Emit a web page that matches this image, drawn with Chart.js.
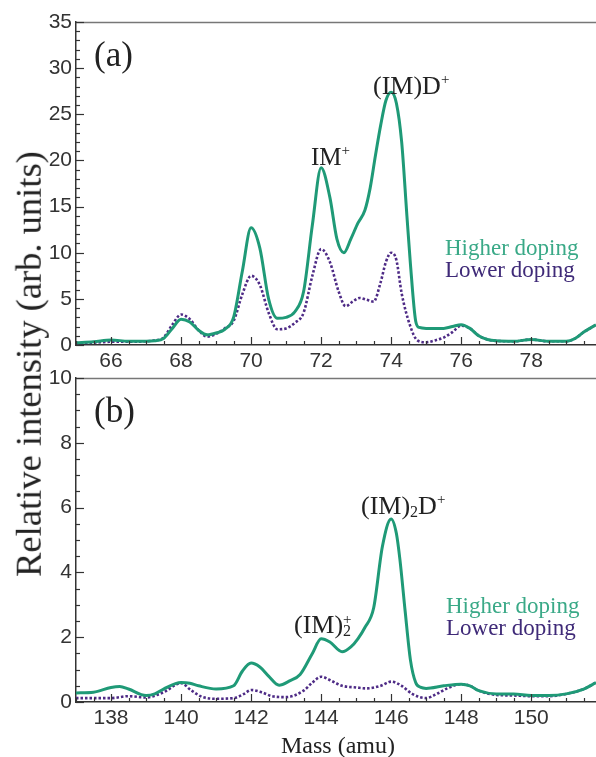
<!DOCTYPE html>
<html><head><meta charset="utf-8">
<script src="https://cdn.jsdelivr.net/npm/chart.js@4.4.1/dist/chart.umd.min.js"></script>
<style>
html,body{margin:0;padding:0;background:#fff;overflow:hidden;width:596px;height:757px;}
#wrap{position:relative;width:596px;height:757px;}
canvas{position:absolute;left:0;}
.t{position:absolute;font-family:"Liberation Serif","Times New Roman",serif;white-space:nowrap;line-height:1;color:#222;}
.sp{position:relative;}
</style></head><body>
<div id="wrap">
<canvas id="ca" width="596" height="370" style="top:0px"></canvas>
<canvas id="cb" width="596" height="397" style="top:360px"></canvas>
</div>
<script>
// ---------- data: panel (a) ----------
const massHiA = [65,65.5,66,66.5,67,67.25,67.5,67.75,68,68.25,68.5,68.75,69,69.25,69.5,69.75,70,70.25,70.5,70.75,71,71.25,71.5,71.75,72,72.25,72.45,72.65,72.85,73.05,73.25,73.4,73.55,73.7,73.85,74,74.15,74.3,74.45,74.55,74.7,74.8,75,75.25,75.5,75.75,76,76.25,76.5,76.75,77,77.5,78,78.5,79,79.25,79.5,79.85];
const higherA = [0.25,0.35,0.55,0.4,0.4,0.45,0.7,1.8,2.8,2.5,1.6,1.1,1.3,1.7,3.0,8.0,12.7,10.5,5.0,2.9,3.0,3.6,5.8,13.0,19.2,16.0,11.5,10.0,11.5,13.2,14.6,17.0,20.5,23.8,26.5,27.4,26.2,22.0,14.0,8.8,2.6,1.9,1.8,1.8,1.8,2.0,2.2,1.8,1.0,0.6,0.45,0.4,0.6,0.4,0.4,0.7,1.4,2.2];
const massLoA = [65,65.5,66,66.5,67,67.25,67.5,67.75,68,68.25,68.5,68.75,69,69.25,69.5,69.75,70,70.25,70.5,70.75,71,71.25,71.5,71.75,72,72.25,72.5,72.7,72.9,73.1,73.3,73.5,73.7,73.85,74,74.15,74.3,74.55,74.75,75,75.25,75.5,75.75,76,76.25,76.5,76.75,77,77.5,78,78.5,79,79.25,79.5,79.85];
const lowerA  = [0.2,0.25,0.35,0.35,0.4,0.5,0.8,2.2,3.3,2.8,1.6,0.9,1.2,1.8,2.6,5.5,7.5,6.5,3.5,1.7,1.8,2.4,3.5,7.5,10.4,9.0,5.8,4.2,4.7,5.1,4.9,4.7,6.8,9.0,10.0,9.2,5.6,2.0,0.5,0.3,0.5,0.8,1.4,2.1,1.8,1.0,0.6,0.45,0.4,0.6,0.4,0.4,0.7,1.4,2.2];
const xTicksA = [66,68,70,72,74,76,78];
const yTicksA = [0,5,10,15,20,25,30,35];

// ---------- data: panel (b) ----------
const massHiB = [137,137.5,138,138.25,138.5,139,139.25,139.5,140,140.25,140.5,141,141.5,141.75,142,142.25,142.5,142.8,143.1,143.4,143.75,144,144.25,144.6,144.85,145.05,145.25,145.5,145.75,146,146.15,146.25,146.4,146.55,146.7,146.85,147,147.5,148,148.25,148.5,149,149.5,150,150.5,151,151.5,151.85];
const higherB = [0.28,0.3,0.45,0.48,0.4,0.2,0.25,0.4,0.6,0.58,0.5,0.4,0.5,0.95,1.2,1.08,0.8,0.52,0.65,0.85,1.5,1.95,1.85,1.55,1.7,1.95,2.3,2.9,4.8,5.65,5.2,4.4,2.8,1.3,0.6,0.45,0.42,0.5,0.55,0.5,0.35,0.25,0.25,0.2,0.2,0.25,0.4,0.6];
const massLoB = [137,137.5,138,138.5,139,139.5,140,140.3,140.6,141,141.5,141.8,142,142.3,142.6,143,143.5,143.75,144,144.3,144.6,145,145.3,145.7,146,146.3,146.6,147,147.3,147.6,148,148.25,148.5,149,149.5,150,150.5,151,151.5,151.85];
const lowerB  = [0.12,0.12,0.12,0.18,0.14,0.3,0.58,0.35,0.16,0.1,0.12,0.25,0.37,0.3,0.18,0.15,0.35,0.6,0.78,0.65,0.5,0.45,0.42,0.5,0.63,0.5,0.25,0.12,0.25,0.42,0.55,0.5,0.35,0.22,0.2,0.18,0.18,0.25,0.4,0.6];
const xTicksB = [138,140,142,144,146,148,150];
const yTicksB = [0,2,4,6,8,10];

const seriesNames = ['Higher doping','Lower doping'];

// ---------- styles ----------
const GREEN = '#1f9a77';
const PURPLE = '#4e2b86';
const GREEN_TXT = '#3aa987';
const PURPLE_TXT = '#3f2a78';
const AXIS = '#333';

const frameTicks = {
  id: 'frameTicks',
  afterDraw(chart, args, o) {
    const {ctx, chartArea: a, scales: {x, y}} = chart;
    ctx.save();
    ctx.strokeStyle = '#777'; ctx.lineWidth = 1.5;
    ctx.beginPath(); ctx.moveTo(a.left, a.top + 0.5); ctx.lineTo(a.right, a.top + 0.5); ctx.stroke();
    ctx.strokeStyle = AXIS; ctx.lineWidth = 1.2;
    const near = (v, s) => Math.abs(v / s - Math.round(v / s)) < 1e-6;
    const nx = Math.round((x.max - x.min) / o.xMinor);
    const x0 = Math.ceil(x.min / o.xMinor) * o.xMinor;
    for (let k = 0; k <= nx; k++) {
      const v = x0 + k * o.xMinor; if (v > x.max) break;
      const px = Math.round(x.getPixelForValue(v)) + 0.5;
      const len = near(v, o.xMajor) ? 8 : 4;
      ctx.beginPath(); ctx.moveTo(px, a.bottom); ctx.lineTo(px, a.bottom - len); ctx.stroke();
    }
    const ny = Math.round((y.max - y.min) / o.yMinor);
    for (let k = 0; k <= ny; k++) {
      const v = y.min + k * o.yMinor;
      const py = Math.round(y.getPixelForValue(v)) + 0.5;
      const len = near(v, o.yMajor) ? 8 : 4;
      ctx.beginPath(); ctx.moveTo(a.left, py); ctx.lineTo(a.left + len, py); ctx.stroke();
    }
    ctx.restore();
  }
};

function makeChart(id, mHi, hi, mLo, lo, xr, xTicks, yTicks, tick, padTop, xH) {
  return new Chart(document.getElementById(id), {
    type: 'line',
    data: {
      datasets: [
        {label: seriesNames[0], data: mHi.map((m, i) => ({x: m, y: hi[i]})), borderColor: GREEN, borderWidth: 3,
         pointRadius: 0, cubicInterpolationMode: 'monotone', fill: false},
        {label: seriesNames[1], data: mLo.map((m, i) => ({x: m, y: lo[i]})), borderColor: PURPLE, borderWidth: 2.6,
         borderDash: [2.5, 2], pointRadius: 0, cubicInterpolationMode: 'monotone', fill: false}
      ]
    },
    options: {
      responsive: false, animation: false, devicePixelRatio: 1,
      layout: {padding: {top: padTop, left: 0, right: 0, bottom: 0}},
      plugins: {legend: {display: false}, tooltip: {enabled: false}, frameTicks: tick},
      scales: {
        x: {
          type: 'linear', min: xr[0], max: xr[1],
          afterBuildTicks: s => { s.ticks = xTicks.map(v => ({value: v})); },
          afterFit: s => { s.height = xH; },
          grid: {drawOnChartArea: false, drawTicks: false},
          border: {display: true, color: AXIS, width: 1.5},
          ticks: {font: {family: 'Liberation Sans', size: 21}, color: '#333', padding: 4, maxRotation: 0, autoSkip: false}
        },
        y: {
          min: yTicks[0], max: yTicks[yTicks.length - 1],
          afterBuildTicks: s => { s.ticks = yTicks.map(v => ({value: v})); },
          afterFit: s => { s.width = 76; },
          grid: {drawOnChartArea: false, drawTicks: false},
          border: {display: true, color: AXIS, width: 1.5},
          ticks: {font: {family: 'Liberation Sans', size: 21}, color: '#333', padding: 4}
        }
      }
    },
    plugins: [frameTicks]
  });
}

makeChart('ca', massHiA, higherA, massLoA, lowerA, [65, 79.85], xTicksA, yTicksA,
  {xMinor: 0.5, xMajor: 2, yMinor: 1, yMajor: 5}, 22, 25);
makeChart('cb', massHiB, higherB, massLoB, lowerB, [137, 151.85], xTicksB, yTicksB,
  {xMinor: 0.5, xMajor: 2, yMinor: 0.5, yMajor: 2}, 18, 55);

// ---------- text ----------
const wrap = document.getElementById('wrap');
function txt(html, left, baseline, size, color, extra) {
  const d = document.createElement('div');
  d.className = 't';
  d.innerHTML = html;
  d.style.left = left + 'px';
  d.style.top = (baseline - 0.8375 * size) + 'px';
  d.style.fontSize = size + 'px';
  if (color) d.style.color = color;
  if (extra) Object.assign(d.style, extra);
  wrap.appendChild(d);
  return d;
}
const sup = (s, dy, fs) => `<span class="sp" style="top:${dy}px;font-size:${fs}px">${s}</span>`;

txt('(a)', 94, 66, 35);
txt('(b)', 94, 422, 35);
txt('IM' + sup('+', -10, 15), 311, 165, 25);
txt('(IM)D' + sup('+', -10, 15), 373, 95, 26);
txt('(IM)' + sup('2', 3, 16) + 'D' + sup('+', -10, 15), 361, 515, 26);
txt('(IM)<span style="position:relative;display:inline-block;width:10px;height:0">' +
    '<span style="position:absolute;left:0;top:-21px;font-size:15px">+</span>' +
    '<span style="position:absolute;left:0;top:-10px;font-size:16px">2</span></span>', 294, 634, 26);
txt(seriesNames[0], 445, 255, 23, GREEN_TXT);
txt(seriesNames[1], 445, 277, 23, PURPLE_TXT);
txt(seriesNames[0], 446, 613, 23, GREEN_TXT);
txt(seriesNames[1], 446, 635, 23, PURPLE_TXT);
txt('Mass (amu)', 281, 753, 24, '#222');

const yt = document.createElement('div');
yt.className = 't';
yt.textContent = 'Relative intensity (arb. units)';
Object.assign(yt.style, {left: '29px', top: '364px', fontSize: '36.5px', transform: 'translate(-50%,-50%) rotate(-90deg)', transformOrigin: '50% 50%'});
wrap.appendChild(yt);
</script>
</body></html>
